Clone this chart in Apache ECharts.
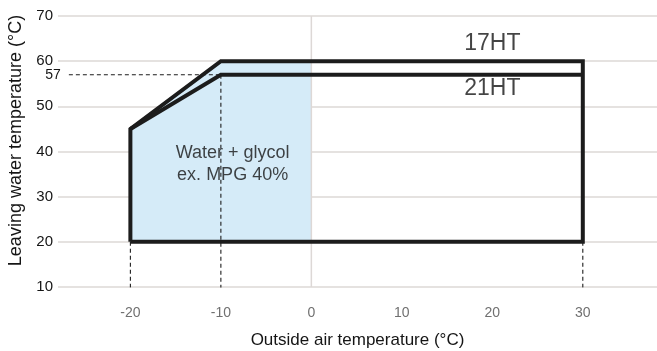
<!DOCTYPE html>
<html>
<head>
<meta charset="utf-8">
<script src="https://cdn.jsdelivr.net/npm/echarts@6/dist/echarts.min.js"></script>
<style>
  html, body { margin: 0; padding: 0; background: #fff; }
  #chart { width: 657px; height: 351px; }
</style>
</head>
<body>
<div id="chart"></div>
<script>
  const xTicks = [-20, -10, 0, 10, 20, 30];
  const yTicks = [10, 20, 30, 40, 50, 60, 70];
  // envelope corners, [outside air °C, leaving water °C]
  const outline17HT = [[-20, 20], [-20, 45], [-10, 60], [30, 60], [30, 20], [-20, 20]];
  const top21HT = [[-20, 45], [-10, 57], [30, 57]];
  const glycolZone = [[-20, 20], [-20, 45], [-10, 60], [0, 60], [0, 20]];
  const guidesV = [
    [[-20, 20], [-20, 9]],
    [[-10, 57], [-10, 9]],
    [[30, 20], [30, 9]]
  ];
  const guide57 = [[-26.8, 57], [-10, 57]];
  const zeroLine = [[0, 10], [0, 70]];
  const labels = [
    { text: "17HT", at: [20, 63.8], size: 23 },
    { text: "21HT", at: [20, 54.0], size: 23 },
    { text: "Water + glycol\nex. MPG 40%", at: [-8.7, 37.2], size: 18 }
  ];

  const font = "'Liberation Sans', Arial, sans-serif";
  const ink = "#1c1c1c";
  const textInk = "#151515";
  const chart = echarts.init(document.getElementById("chart"));

  const dashStyle = { color: ink, width: 1.1, type: [4, 3] };

  const series = [
    {
      type: "custom",
      z: 1,
      silent: true,
      renderItem: (params, api) => ({
        type: "polygon",
        shape: { points: glycolZone.map((p) => api.coord(p)) },
        style: { fill: "#d5ebf8" }
      }),
      data: [0]
    },
    {
      type: "line", z: 2, silent: true, symbol: "none",
      lineStyle: { color: "#ddd8d6", width: 1.5 },
      data: zeroLine
    },
    ...guidesV.map((d) => ({
      type: "line", z: 3, silent: true, symbol: "none",
      lineStyle: dashStyle, data: d
    })),
    {
      type: "line", z: 3, silent: true, symbol: "circle", symbolSize: 0, showSymbol: true,
      lineStyle: dashStyle,
      data: [
        { value: guide57[0], label: { show: true, position: "left", distance: 8, formatter: "57", color: textInk, fontSize: 14, fontFamily: font } },
        guide57[1]
      ]
    },
    {
      type: "line", z: 5, silent: true, symbol: "none",
      lineStyle: { color: ink, width: 4, join: "miter" },
      data: outline17HT
    },
    {
      type: "line", z: 5, silent: true, symbol: "none",
      lineStyle: { color: ink, width: 4, join: "miter" },
      data: top21HT
    },
    {
      type: "scatter", z: 6, silent: true, symbolSize: 0,
      data: labels.map((l) => ({
        value: l.at,
        label: {
          show: true, position: "inside", formatter: l.text,
          color: textInk, fontFamily: font,
          fontSize: l.size, lineHeight: l.size + 4
        }
      }))
    }
  ];

  chart.setOption({
    animation: false,
    grid: { left: 58, right: 0, top: 16, bottom: 64, containLabel: false, outerBoundsMode: "none" },
    xAxis: {
      type: "value", min: -28, max: 38.2,
      name: "Outside air temperature (°C)",
      nameLocation: "middle", nameGap: 45,
      nameTextStyle: { color: textInk, fontSize: 17, fontFamily: font },
      axisLine: { show: false },
      axisTick: { show: false },
      splitLine: { show: false },
      axisLabel: { customValues: xTicks, color: "#707070", fontSize: 14, fontFamily: font, margin: 19 }
    },
    yAxis: {
      type: "value", min: 10, max: 70, interval: 10,
      name: "Leaving water temperature (°C)",
      nameLocation: "middle", nameGap: 33,
      nameTextStyle: { color: textInk, fontSize: 18, fontFamily: font, padding: [0, 0, 0, 22] },
      axisLine: { show: false },
      axisTick: { show: false },
      splitLine: { lineStyle: { color: "#ddd8d6", width: 1.5 } },
      axisLabel: { color: textInk, fontSize: 15, fontFamily: font, margin: 5, padding: [0, 0, 6, 0] }
    },
    series
  });
</script>
</body>
</html>
